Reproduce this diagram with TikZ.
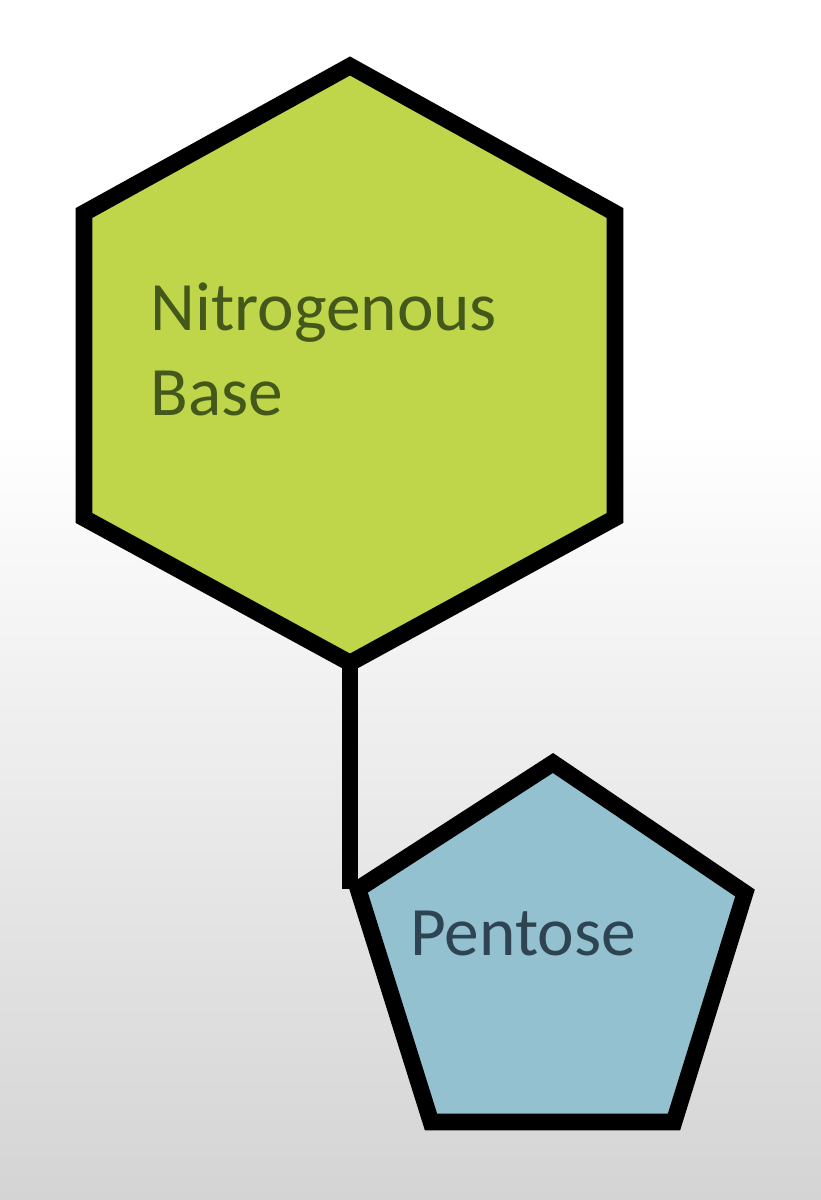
\documentclass[tikz,border=0pt]{standalone}
\usepackage{fontspec}
\setmainfont{Carlito}
\definecolor{basegreen}{RGB}{192,214,74}
\definecolor{pentblue}{RGB}{148,193,208}
\definecolor{basetext}{RGB}{68,88,28}
\definecolor{penttext}{RGB}{46,68,82}
\definecolor{bggray}{RGB}{212,212,212}
\tikzset{every picture/.style={line width=0.75pt}}
\tikzset{
  ring/.style={line width=12.5pt, line join=miter, draw=black},
  bond/.style={line width=12pt, draw=black},
  lbl/.style={anchor=base west, inner sep=0pt, font=\fontsize{52}{62}\selectfont}
}

\begin{document}
\begin{tikzpicture}[x=0.75pt,y=0.75pt,yscale=-1,xscale=1]
	%background, white fading to grey
	\useasboundingbox (0,0) rectangle (821,1200);
	\fill [white] (0,0) rectangle (821,430);
	\shade [top color=white, bottom color=bggray] (0,429) rectangle (821,1200);

	%hexagon
	\coordinate (h1) at (350,66);
	\coordinate (h2) at (615,213);
	\coordinate (h3) at (615,518);
	\coordinate (h4) at (350,663);
	\coordinate (h5) at (84,518);
	\coordinate (h6) at (84,213);
	\draw [ring, fill=basegreen] (h1) -- (h2) -- (h3) -- (h4) -- (h5) -- (h6) -- cycle;

	%pentagon
	\coordinate (p1) at (553,763);
	\coordinate (p2) at (745,893);
	\coordinate (p3) at (674,1122);
	\coordinate (p4) at (431,1122);
	\coordinate (p5) at (358,889);
	\draw [ring, fill=pentblue] (p1) -- (p2) -- (p3) -- (p4) -- (p5) -- cycle;

	%bond
	\draw [bond] (h4) -- (h4 |- p5);

	\node (nitro) at (150,330) [lbl, text=basetext] {Nitrogenous};
	\node (base) at (150,415) [lbl, text=basetext] {Base};
	\node (pentose) at (410,955) [lbl, text=penttext] {Pentose};
\end{tikzpicture}
\end{document}
